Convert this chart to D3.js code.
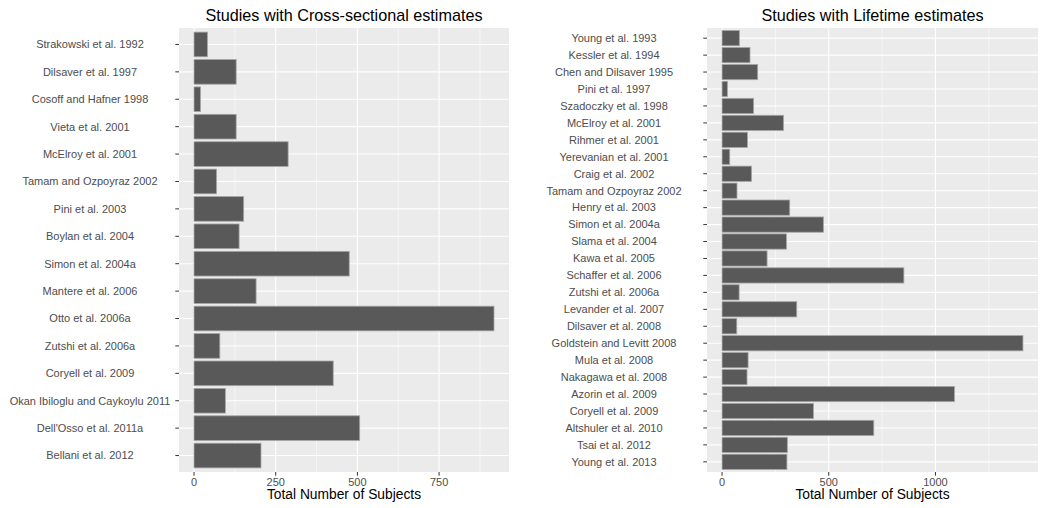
<!DOCTYPE html>
<html>
<head>
<meta charset="utf-8">
<script src="https://cdn.jsdelivr.net/npm/d3@7"></script>
<style>
  html, body { margin: 0; padding: 0; background: #fff; }
  svg { display: block; font-family: "Liberation Sans", Arial, sans-serif; }
</style>
</head>
<body>
<svg id="chart" width="1049" height="508"></svg>
<script>
// Cross-sectional studies (top to bottom) and their sample sizes
const crossStudies = [
  "Strakowski et al. 1992", "Dilsaver et al. 1997", "Cosoff and Hafner 1998",
  "Vieta et al. 2001", "McElroy et al. 2001", "Tamam and Ozpoyraz 2002",
  "Pini et al. 2003", "Boylan et al. 2004", "Simon et al. 2004a",
  "Mantere et al. 2006", "Otto et al. 2006a", "Zutshi et al. 2006a",
  "Coryell et al. 2009", "Okan Ibiloglu and Caykoylu 2011",
  "Dell'Osso et al. 2011a", "Bellani et al. 2012"
];
const crossSubjects = [41, 129, 20, 129, 288, 69, 152, 138, 475, 190, 918, 79, 426, 96, 507, 205];

// Lifetime studies (top to bottom) and their sample sizes
const lifeStudies = [
  "Young et al. 1993", "Kessler et al. 1994", "Chen and Dilsaver 1995",
  "Pini et al. 1997", "Szadoczky et al. 1998", "McElroy et al. 2001",
  "Rihmer et al. 2001", "Yerevanian et al. 2001", "Craig et al. 2002",
  "Tamam and Ozpoyraz 2002", "Henry et al. 2003", "Simon et al. 2004a",
  "Slama et al. 2004", "Kawa et al. 2005", "Schaffer et al. 2006",
  "Zutshi et al. 2006a", "Levander et al. 2007", "Dilsaver et al. 2008",
  "Goldstein and Levitt 2008", "Mula et al. 2008", "Nakagawa et al. 2008",
  "Azorin et al. 2009", "Coryell et al. 2009", "Altshuler et al. 2010",
  "Tsai et al. 2012", "Young et al. 2013"
];
const lifeSubjects = [81, 131, 167, 25, 148, 288, 119, 36, 138, 70, 317, 475,
  302, 211, 852, 80, 350, 69, 1410, 122, 117, 1089, 428, 711, 306, 304];

// Axis ticks
const crossMajor = [0, 250, 500, 750];
const crossMinor = [125, 375, 625, 875];
const lifeMajor = [0, 500, 1000];
const lifeMinor = [250, 750, 1250];

const svg = d3.select("#chart");

function panel(opts) {
  const { title, names, values, major, minor, left, right, labelX } = opts;
  const top = 28, bottom = 472;
  const vmax = d3.max(values);
  const x = d3.scaleLinear().domain([-0.05 * vmax, 1.05 * vmax]).range([left, right]);
  const y = d3.scalePoint().domain(names).range([top, bottom]).padding(0.6);
  const band = y.step() * 0.9;

  const g = svg.append("g");

  g.append("rect")
    .attr("x", left).attr("y", top)
    .attr("width", right - left).attr("height", bottom - top)
    .attr("fill", "#EBEBEB");

  // minor vertical grid
  g.selectAll(".vminor").data(minor).join("line")
    .attr("x1", d => x(d)).attr("x2", d => x(d))
    .attr("y1", top).attr("y2", bottom)
    .attr("stroke", "#fff").attr("stroke-width", 0.55);

  // major vertical grid
  g.selectAll(".vmajor").data(major).join("line")
    .attr("x1", d => x(d)).attr("x2", d => x(d))
    .attr("y1", top).attr("y2", bottom)
    .attr("stroke", "#fff").attr("stroke-width", 1.1);

  // horizontal grid at each study
  g.selectAll(".hgrid").data(names).join("line")
    .attr("x1", left).attr("x2", right)
    .attr("y1", d => y(d)).attr("y2", d => y(d))
    .attr("stroke", "#fff").attr("stroke-width", 1.1);

  // bars
  g.selectAll(".bar").data(names).join("rect")
    .attr("x", x(0))
    .attr("y", d => y(d) - band / 2)
    .attr("width", (d, i) => x(values[i]) - x(0))
    .attr("height", band)
    .attr("fill", "#595959")
    .attr("stroke", "#A6A6A6")
    .attr("stroke-width", 0.8);

  // y axis ticks + labels
  const yAxis = g.append("g");
  yAxis.selectAll("line").data(names).join("line")
    .attr("x1", left - 3.7).attr("x2", left)
    .attr("y1", d => y(d)).attr("y2", d => y(d))
    .attr("stroke", "#333").attr("stroke-width", 1);
  yAxis.selectAll("text").data(names).join("text")
    .attr("x", labelX)
    .attr("y", d => y(d))
    .attr("dy", "0.35em")
    .attr("text-anchor", "middle")
    .attr("fill", "#4D4D4D")
    .attr("font-size", "11px")
    .text(d => d);

  // x axis ticks + labels
  const xAxis = g.append("g");
  xAxis.selectAll("line").data(major).join("line")
    .attr("x1", d => x(d)).attr("x2", d => x(d))
    .attr("y1", bottom).attr("y2", bottom + 3.7)
    .attr("stroke", "#333").attr("stroke-width", 1);
  xAxis.selectAll("text").data(major).join("text")
    .attr("x", d => x(d))
    .attr("y", bottom + 14)
    .attr("text-anchor", "middle")
    .attr("fill", "#4D4D4D")
    .attr("font-size", "11px")
    .text(d => d);

  // axis title
  g.append("text")
    .attr("x", (left + right) / 2)
    .attr("y", 499)
    .attr("text-anchor", "middle")
    .attr("fill", "#000")
    .attr("font-size", "13.8px")
    .text("Total Number of Subjects");

  // panel title
  g.append("text")
    .attr("x", (left + right) / 2)
    .attr("y", 20.5)
    .attr("text-anchor", "middle")
    .attr("fill", "#000")
    .attr("font-size", "16.2px")
    .text(title);
}

panel({
  title: "Studies with Cross-sectional estimates",
  names: crossStudies, values: crossSubjects,
  major: crossMajor, minor: crossMinor,
  left: 179, right: 509, labelX: 90
});

panel({
  title: "Studies with Lifetime estimates",
  names: lifeStudies, values: lifeSubjects,
  major: lifeMajor, minor: lifeMinor,
  left: 707, right: 1038, labelX: 614
});
</script>
</body>
</html>
